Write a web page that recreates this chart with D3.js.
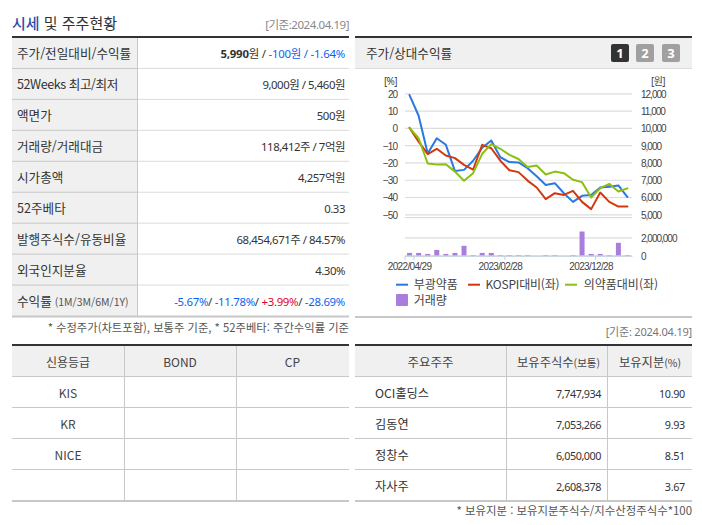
<!DOCTYPE html>
<html lang="ko"><head><meta charset="utf-8">
<script src="https://cdn.jsdelivr.net/npm/d3@7/dist/d3.min.js"></script>
<style>
html,body{margin:0;padding:0;background:#fff}
svg{display:block}
text{font-family:"Noto Sans CJK KR",sans-serif;fill:#333}
.num{font-family:"Noto Sans","Noto Sans CJK KR",sans-serif}
.ax text{font-family:"Liberation Sans",sans-serif;font-size:10px;letter-spacing:-1px;fill:#444}
</style></head><body><svg id="c" width="702" height="525"></svg>
<script>
// ---- data ----
const dates = ["2022/04/29","2022/05/31","2022/06/30","2022/07/29","2022/08/31","2022/09/30","2022/10/31","2022/11/30","2022/12/28","2023/01/31","2023/02/28","2023/03/31","2023/04/28","2023/05/31","2023/06/30","2023/07/31","2023/08/31","2023/09/27","2023/10/31","2023/11/30","2023/12/28","2024/01/31","2024/02/29","2024/03/29","2024/04/19"];
const labelledDates = ["2022/04/29","2023/02/28","2023/12/28"];
const company = [19,7,-14.8,-6,-9.8,-25,-24.3,-19,-11.5,-7.3,-17,-19.8,-20,-23.3,-28,-33,-32,-37.8,-42.8,-39.3,-38.8,-34.5,-34,-33.3,-40];
const kospi = [0,-8,-15.2,-12.1,-16,-17.5,-21.4,-24.1,-9.8,-11.8,-19,-24.5,-25.6,-30.5,-34.5,-41.2,-37.8,-38.8,-36.4,-42.8,-47,-37.4,-42.8,-45.5,-45.5];
const pharma = [0,-6,-20.6,-21.2,-21,-25.3,-30.6,-26.2,-15,-9.4,-12.1,-15.6,-18,-22.7,-21.8,-27,-25.3,-26.2,-30,-31.4,-40.3,-34.9,-32.4,-36.8,-35];
const volume = [300000,300000,190000,630000,190000,300000,1070000,70000,300000,300000,70000,70000,70000,70000,0,70000,70000,0,70000,2630000,190000,190000,70000,1400000,70000];
const pctTicks = [20,10,0,-10,-20,-30,-40,-50];
const priceTicks = [12000,11000,10000,9000,8000,7000,6000,5000];
const volTicks = [0,2000000];
const seriesNames = ["부광약품","KOSPI대비(좌)","의약품대비(좌)","거래량"];
const seriesColors = ["#2a78e0","#d2380f","#8cbf10","#a87ddc"];

const quoteLabels = ["주가/전일대비/수익률","52Weeks 최고/최저","액면가","거래량/거래대금","시가총액","52주베타","발행주식수/유동비율","외국인지분율","수익률"];
const quoteValues = [
 [["5,990","b"],["원 / ",""],["-100원 / -1.64%","blue"]],
 [["9,000원 / 5,460원",""]],
 [["500원",""]],
 [["118,412주 / 7억원",""]],
 [["4,257억원",""]],
 [["0.33",""]],
 [["68,454,671주 / 84.57%",""]],
 [["4.30%",""]],
 [["-5.67%","blue"],["/ ",""],["-11.78%","blue"],["/ ",""],["+3.99%","red"],["/ ",""],["-28.69%","blue"]]
];
const creditHead = ["신용등급","BOND","CP"];
const creditRows = ["KIS","KR","NICE",""];
const holderHead = ["주요주주","보유주식수","보유지분"];
const holderNames = ["OCI홀딩스","김동연","정창수","자사주"];
const holderShares = ["7,747,934","7,053,266","6,050,000","2,608,378"];
const holderPct = ["10.90","9.93","8.51","3.67"];

// ---- helpers ----
const svg = d3.select("#c");
const rect=(x,y,w,h,f,g=svg)=>g.append("rect").attr("x",x).attr("y",y).attr("width",w).attr("height",h).attr("fill",f);
const txt=(x,y,s,o={})=>{const t=svg.append("text").attr("x",x).attr("y",y).text(s)
  .attr("font-size",o.size||12.5).attr("text-anchor",o.anchor||"start").style("fill",o.fill||"#333");
  if(o.cls)t.attr("class",o.cls); if(o.ls)t.style("letter-spacing",o.ls+"px"); if(o.weight)t.attr("font-weight",o.weight); return t;};
const DARK="#333",EDGE="#c8c8c8",LINE="#dcdcdc",HEAD="#f0f0f0";

// ---- title row ----
const title=txt(12,29,"",{size:15});
title.append("tspan").text("시세").style("fill","#2d4ea8").attr("font-weight",500);
title.append("tspan").text(" 및 주주현황").style("fill","#333");
txt(349,29,"[기준:2024.04.19]",{size:11.5,anchor:"end",fill:"#888",cls:"num",ls:-.45});

// ---- quote table ----
const rowY=d3.scaleLinear().domain([0,9]).range([37.5,316]);
rect(12,36,337,2,DARK);
rect(12,38,125.5,278,HEAD);
quoteLabels.forEach((l,i)=>{
  const y0=rowY(i),y1=rowY(i+1),cy=(y0+y1)/2;
  if(i<8){rect(12,y1-.5,125.5,1,EDGE);rect(137.5,y1-.5,211.5,1,LINE);}
  const t=txt(17,cy+5.5,l,{size:12.6,ls:i===1?-.45:0});
  if(i===8){t.append("tspan").text(" (1M/3M/6M/1Y)").attr("font-size",10.5).style("fill","#555");}
  const v=txt(345,cy+5.5,"",{size:11.4,anchor:"end",cls:"num",ls:i===0?-.22:i===8?-.3:-.45});
  quoteValues[i].forEach(([s,k])=>{
    const sp=v.append("tspan").text(s).style("fill",k==="blue"?"#0a62f0":k==="red"?"#e0002d":"#333");
    if(k==="b")sp.attr("font-weight",700);
  });
});
rect(137,38,1,278,EDGE);
rect(12,315.5,337,2,EDGE);
txt(349,332,"* 수정주가(차트포함), 보통주 기준, * 52주베타: 주간수익률 기준",{size:11.3,anchor:"end",fill:"#555"});

// ---- chart panel ----
rect(355,36,337,2,DARK);
rect(355,38,337,30,HEAD);
rect(355,68,337,1,LINE);
txt(366,58,"주가/상대수익률",{size:12.6});
["1","2","3"].forEach((s,i)=>{
  const x=[611,636,662][i];
  rect(x,44,18,18,i?"#a0a0a0":"#333").attr("rx",2);
  txt(x+9,58,s,{size:13,anchor:"middle",fill:"#fff",weight:700,cls:"num"});
});
rect(355,316,337,2,EDGE);

const x=d3.scaleBand().domain(dates).range([405,632]);
const cx=d=>x(d)+x.bandwidth()/2;
const yPct=d3.scaleLinear().domain([-50,20]).range([214.3,93.3]);
const yPrice=d3.scaleLinear().domain([5000,12000]).range([214.3,93.3]);
const yVol=d3.scaleLinear().domain([0,2000000]).range([255.7,237.3]);

const gridStyle=g=>{g.select(".domain").remove();g.selectAll(".tick line").attr("stroke","#dcdcdc").attr("stroke-width",1.2);};
const nudge=g=>g.selectAll(".tick text").attr("dy","1.3px").attr("dominant-baseline","middle");
svg.append("g").attr("class","ax").attr("transform","translate(405,0)")
  .call(d3.axisLeft(yPct).tickValues(pctTicks).tickSize(-227).tickPadding(8).tickFormat(d3.format("d")))
  .call(gridStyle).call(nudge);
svg.append("g").attr("class","ax").attr("transform","translate(632,0)")
  .call(d3.axisRight(yPrice).tickValues(priceTicks).tickSize(0).tickPadding(9).tickFormat(d3.format(",")))
  .call(g=>g.select(".domain").remove()).call(nudge);
svg.append("g").attr("class","ax").attr("transform","translate(405,0)")
  .call(d3.axisLeft(yVol).tickValues(volTicks).tickSize(-227).tickFormat(""))
  .call(gridStyle);
svg.append("g").attr("class","ax").attr("transform","translate(632,0)")
  .call(d3.axisRight(yVol).tickValues(volTicks).tickSize(0).tickPadding(9).tickFormat(d3.format(",")))
  .call(g=>g.select(".domain").remove()).call(nudge);
rect(405,217,227,1.2,"#dcdcdc");
txt(397,84.5,"[%]",{size:10,anchor:"end",cls:"num",ls:-.6,fill:"#444"});
txt(665,84.5,"[원]",{size:10,anchor:"end",cls:"num",ls:-.6,fill:"#444"});

// volume bars
svg.append("g").selectAll("rect").data(dates).join("rect")
  .attr("x",d=>cx(d)-2.5).attr("width",5)
  .attr("y",(d,i)=>yVol(volume[i])).attr("height",(d,i)=>yVol(0)-yVol(volume[i]))
  .attr("fill",seriesColors[3]);

// x axis
const xAxisG=svg.append("g").attr("class","ax").attr("transform","translate(0,255.7)")
  .call(d3.axisBottom(x).tickValues(labelledDates).tickSize(0).tickSizeOuter(0).tickPadding(7));
xAxisG.select(".domain").attr("stroke","#c5d0de").attr("stroke-width",1.2);
xAxisG.selectAll("text").style("letter-spacing","-.65px");
svg.append("g").selectAll("line").data([null,...labelledDates]).join("line")
  .attr("x1",d=>d?x(d)+x.step():405).attr("x2",d=>d?x(d)+x.step():405)
  .attr("y1",255.7).attr("y2",260).attr("stroke","#c5d0de");

// lines
const line=vals=>d3.line().x((d,i)=>cx(dates[i])).y(d=>yPct(d))(vals);
[company,kospi,pharma].forEach((vals,i)=>{
  svg.append("path").attr("d",line(vals)).attr("fill","none").attr("stroke",seriesColors[i])
    .attr("stroke-width",2).attr("stroke-linejoin","round").attr("stroke-linecap","round");
});

// legend
[[396,413.7,288.5,0],[468,485.5,288.5,-.2],[565,583.7,288.5,0]].forEach(([a,b,y,ls],i)=>{
  rect(a,y-4.8,12,2,seriesColors[i]);
  txt(b,y,seriesNames[i],{size:12,fill:"#444",ls});
});
rect(396,294,12,12,seriesColors[3]).attr("rx",1);
txt(413.7,304.5,seriesNames[3],{size:12,fill:"#444"});

txt(692,336,"[기준: 2024.04.19]",{size:11,anchor:"end",fill:"#777",cls:"num",ls:-.2});

// ---- lower tables ----
const lowY=[346,376,407,438,469,500];
function frame(x0,x1,cols){
  rect(x0,344,x1-x0,2,DARK);
  rect(x0,346,x1-x0,30,HEAD);
  lowY.slice(1,5).forEach(y=>rect(x0,y,x1-x0,1,EDGE));
  cols.forEach(c=>rect(c,346,1,154,EDGE));
  rect(x0,500,x1-x0,2,EDGE);
}
frame(12,349,[124,236]);
frame(355,692,[506,607]);
const rowCy=i=>(lowY[i]+lowY[i+1])/2+6;
creditHead.forEach((h,i)=>txt([68,180,292.5][i],rowCy(0),h,{size:12,anchor:"middle",fill:"#444"}));
creditRows.forEach((r,i)=>txt(68,rowCy(i+1),r,{size:12,anchor:"middle",fill:"#444"}));

txt(430.5,rowCy(0),holderHead[0],{size:12.5,anchor:"middle",fill:"#444"});
const h1=txt(558.5,rowCy(0),holderHead[1],{size:12.3,anchor:"middle",fill:"#444"});
h1.append("tspan").text("(보통)").attr("font-size",10.5);
const h2=txt(650,rowCy(0),holderHead[2],{size:12.3,anchor:"middle",fill:"#444"});
h2.append("tspan").text("(%)").attr("font-size",10.5);
holderNames.forEach((n,i)=>{
  txt(375,rowCy(i+1),n,{size:12.2,fill:"#333"});
  txt(601,rowCy(i+1),holderShares[i],{size:10.8,anchor:"end",cls:"num",ls:-.45});
  txt(685,rowCy(i+1),holderPct[i],{size:10.8,anchor:"end",cls:"num",ls:-.3});
});
txt(692,515,"* 보유지분 : 보유지분주식수/지수산정주식수*100",{size:11.4,anchor:"end",fill:"#555"});
</script></body></html>
